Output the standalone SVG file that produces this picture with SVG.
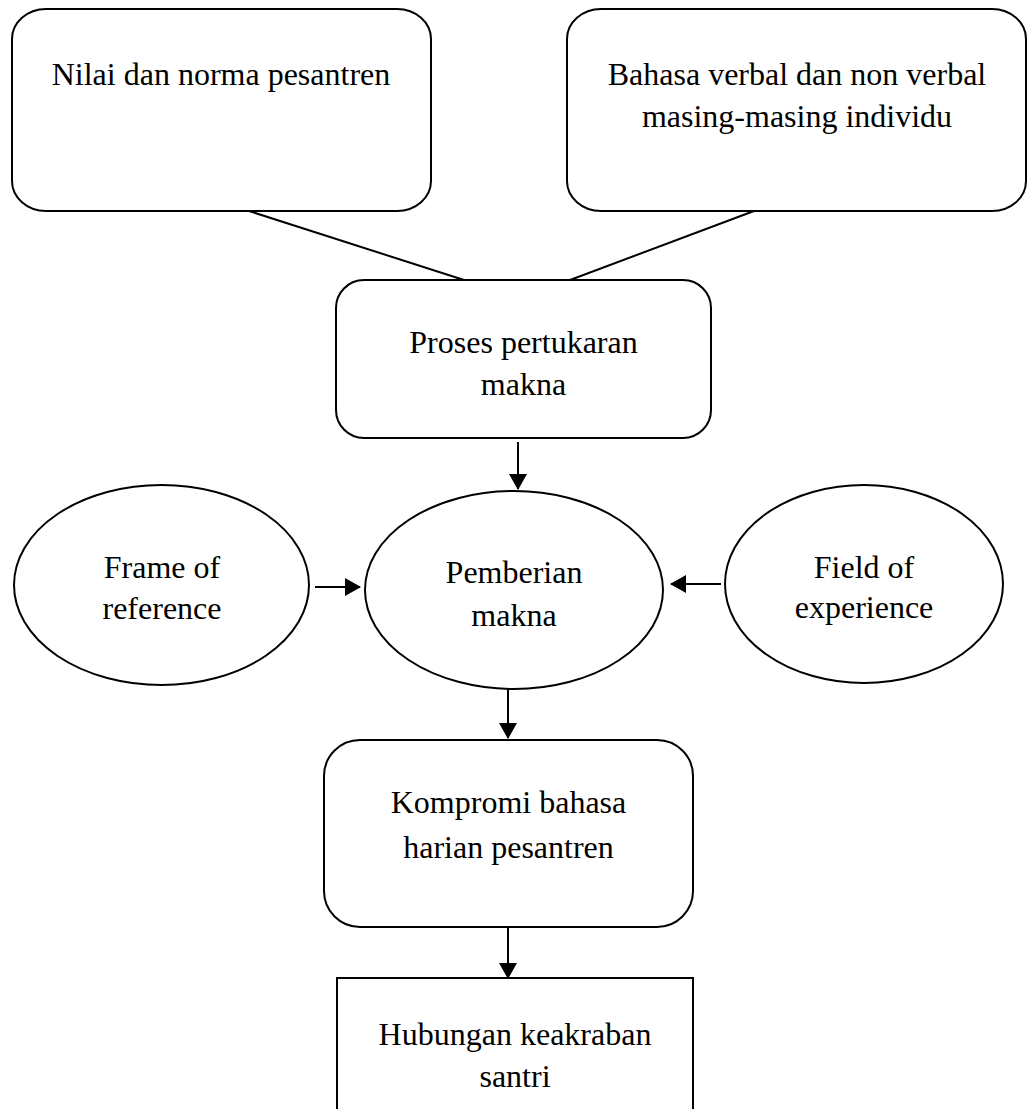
<svg xmlns="http://www.w3.org/2000/svg" width="1028" height="1109" viewBox="0 0 1028 1109">
<style>
.box{fill:#fff;stroke:#000;stroke-width:2}
.lbl{font-family:"Liberation Serif","Times New Roman",serif;font-size:32px;fill:#000;text-anchor:middle}
.conn{stroke:#000;stroke-width:2;fill:none}
</style>
<defs>
<marker id="ah" markerUnits="userSpaceOnUse" markerWidth="16" markerHeight="18" viewBox="0 0 16 18" refX="15" refY="9" orient="auto">
<path d="M0,0 L16,9 L0,18 Z" fill="#000"/>
</marker>
</defs>
<rect width="1028" height="1109" fill="#fff"/>
<g id="connectors">
<line class="conn" x1="249" y1="211" x2="464" y2="280"/>
<line class="conn" x1="754" y1="211" x2="570" y2="280"/>
<line class="conn" x1="518" y1="442" x2="518" y2="489" marker-end="url(#ah)"/>
<line class="conn" x1="315" y1="587" x2="360" y2="587" marker-end="url(#ah)"/>
<line class="conn" x1="721" y1="584" x2="671" y2="584" marker-end="url(#ah)"/>
<line class="conn" x1="508" y1="689" x2="508" y2="738" marker-end="url(#ah)"/>
<line class="conn" x1="508" y1="927" x2="508" y2="978" marker-end="url(#ah)"/>
</g>
<g id="nilai">
<rect class="box" x="12" y="9" width="419" height="202" rx="34" ry="30"/>
<text class="lbl" x="221" y="85">Nilai dan norma pesantren</text>
</g>
<g id="bahasa">
<rect class="box" x="567" y="9" width="459" height="202" rx="34" ry="30"/>
<text class="lbl" x="797" y="85">Bahasa verbal dan non verbal</text>
<text class="lbl" x="797" y="127">masing-masing individu</text>
</g>
<g id="proses">
<rect class="box" x="336" y="280" width="375" height="158" rx="28" ry="28"/>
<text class="lbl" x="523.5" y="353">Proses pertukaran</text>
<text class="lbl" x="523.5" y="395">makna</text>
</g>
<g id="frame">
<ellipse class="box" cx="161.5" cy="585" rx="147.5" ry="100"/>
<text class="lbl" x="162" y="578">Frame of</text>
<text class="lbl" x="162" y="619">reference</text>
</g>
<g id="pemberian">
<ellipse class="box" cx="514" cy="590" rx="149" ry="99"/>
<text class="lbl" x="514" y="583">Pemberian</text>
<text class="lbl" x="514" y="626">makna</text>
</g>
<g id="field">
<ellipse class="box" cx="864" cy="584" rx="139" ry="99"/>
<text class="lbl" x="864" y="578">Field of</text>
<text class="lbl" x="864" y="618">experience</text>
</g>
<g id="kompromi">
<rect class="box" x="324" y="740" width="369" height="187" rx="36" ry="36"/>
<text class="lbl" x="508.5" y="813">Kompromi bahasa</text>
<text class="lbl" x="508.5" y="858">harian pesantren</text>
</g>
<g id="hubungan">
<rect class="box" x="337" y="978" width="356" height="150"/>
<text class="lbl" x="515" y="1045">Hubungan keakraban</text>
<text class="lbl" x="515" y="1087">santri</text>
</g>
</svg>
